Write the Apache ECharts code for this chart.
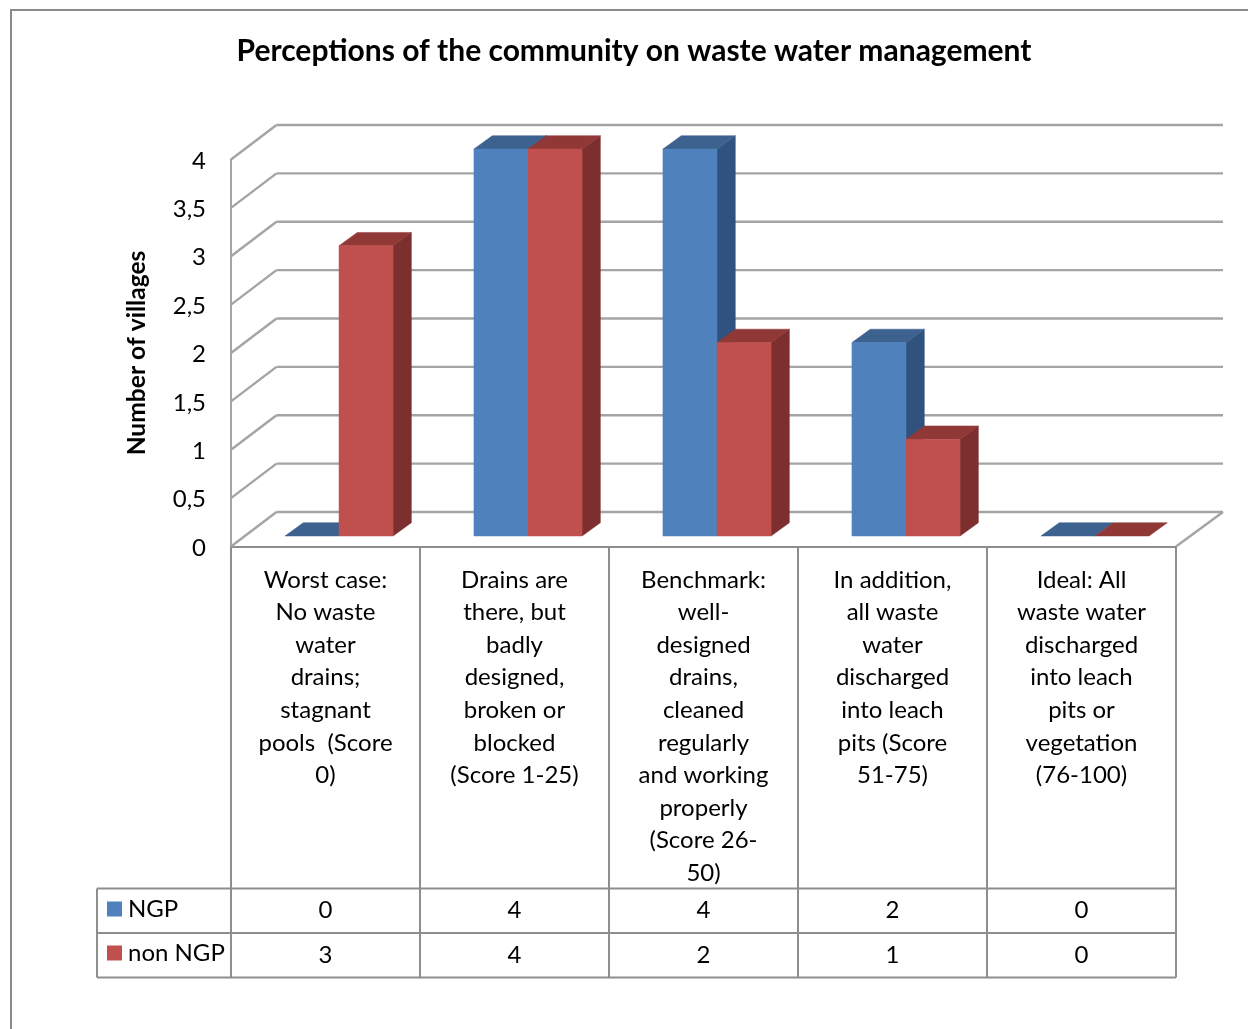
<!DOCTYPE html>
<html>
<head>
<meta charset="utf-8">
<style>html,body{margin:0;padding:0;background:#fff}#c{width:1248px;height:1029px}</style>
<script src="https://cdn.jsdelivr.net/npm/echarts@6/dist/echarts.min.js"></script>
</head>
<body>
<div id="c"></div>
<script>
const categories = [
  "Worst case:\nNo waste\nwater\ndrains;\nstagnant\npools  (Score\n0)",
  "Drains are\nthere, but\nbadly\ndesigned,\nbroken or\nblocked\n(Score 1-25)",
  "Benchmark:\nwell-\ndesigned\ndrains,\ncleaned\nregularly\nand working\nproperly\n(Score 26-\n50)",
  "In addition,\nall waste\nwater\ndischarged\ninto leach\npits (Score\n51-75)",
  "Ideal: All\nwaste water\ndischarged\ninto leach\npits or\nvegetation\n(76-100)"
];
const ngp = [0, 4, 4, 2, 0];
const nonNgp = [3, 4, 2, 1, 0];
const yTicks = [0, 0.5, 1, 1.5, 2, 2.5, 3, 3.5, 4];
const titleText = "Perceptions of the community on waste water management";
const yName = "Number of villages";
const seriesNames = ["NGP", "non NGP"];

const FONT = "Lato";
const GRID = "#a4a4a4", TABLE = "#8e8e8e", INK = "#000";
const WALL = {dx: 45.5, dy: -34.5};   // projection of the back wall
const INSET = {dx: 13.5, dy: -10.5};  // bars stand a little behind the front edge
const DEPTH = {dx: 18.3, dy: -13.3};  // bar depth
const BAR_RATIO = 0.286;
const ROW_Y = [431 - 89, 431 - 44.5, 431]; // table row lines, below the axis line

const pts = (...a) => a;
function line(x1, y1, x2, y2, color, w) {
  return {type: "line", shape: {x1, y1, x2, y2},
    style: {stroke: color, lineWidth: w || 2, fill: null}};
}

function renderWall(params, api) {
  const p = api.coord([0, api.value(0)]);
  const band = api.size([1, 0])[0];
  const xL = p[0] - band / 2, xR = xL + band * 5, y = p[1];
  const kids = [
    line(xL, y, xL + WALL.dx, y + WALL.dy, GRID, 2.4),
    line(xL + WALL.dx, y + WALL.dy, xR + WALL.dx + 1.5, y + WALL.dy, GRID, 2.4)
  ];
  if (params.dataIndex === 0) {
    kids.push(line(xR, y, xR + WALL.dx + 1.5, y + WALL.dy, GRID, 2.4));
  }
  return {type: "group", children: kids};
}

function barRenderer(side, front, dark, topCol) {
  return function (params, api) {
    const c = api.coord([api.value(0), api.value(1)]);
    const base = api.coord([api.value(0), 0]);
    const w = api.size([1, 0])[0] * BAR_RATIO;
    const x0 = c[0] + INSET.dx + (side < 0 ? -w : 0), x1 = x0 + w;
    const yT = c[1] + INSET.dy, yB = base[1] + INSET.dy;
    const dx = DEPTH.dx, dy = DEPTH.dy;
    const poly = (points, fill) => ({type: "polygon", shape: {points},
      style: {fill, stroke: fill, lineWidth: 0.5}});
    const kids = [];
    if (yB - yT > 0) kids.push(poly(pts([x1, yT], [x1 + dx, yT + dy], [x1 + dx, yB + dy], [x1, yB]), dark));
    kids.push(poly(pts([x0, yT], [x0 + dx, yT + dy], [x1 + dx, yT + dy], [x1, yT]), topCol));
    if (yB - yT > 0) kids.push(poly(pts([x0, yT], [x1, yT], [x1, yB], [x0, yB]), front));
    return {type: "group", children: kids};
  };
}

function renderTable(params, api) {
  const i = api.value(0);
  const c = api.coord([i, 0]);
  const band = api.size([1, 0])[0];
  const xL = c[0] - band / 2, xR = xL + band;
  const kids = ROW_Y.map(r => line(xL, c[1] + r, xR, c[1] + r, TABLE));
  kids.push({type: "text", style: {text: String(api.value(1)), x: c[0], y: c[1] + ROW_Y[0] + 22,
    fill: INK, font: "24px " + FONT, align: "center", verticalAlign: "middle"}});
  kids.push({type: "text", style: {text: String(api.value(2)), x: c[0], y: c[1] + ROW_Y[1] + 22,
    fill: INK, font: "24px " + FONT, align: "center", verticalAlign: "middle"}});
  if (i === 0) {
    const hx = xL - 134;
    ROW_Y.forEach(r => kids.push(line(hx, c[1] + r, xL, c[1] + r, TABLE)));
    kids.push(line(hx, c[1] + ROW_Y[0], hx, c[1] + ROW_Y[2], TABLE));
  }
  return {type: "group", children: kids};
}

const chart = echarts.init(document.getElementById("c"), null, {renderer: "canvas"});
chart.setOption({
  animation: false,
  backgroundColor: "#fff",
  title: {
    text: titleText, left: 629, top: 31, textAlign: "center",
    textStyle: {fontFamily: FONT, fontWeight: "bold", fontSize: 30, color: INK}
  },
  legend: {
    data: seriesNames, orient: "vertical", left: 107, top: 897, itemWidth: 15, itemHeight: 15,
    itemGap: 20, icon: "rect", selectedMode: false, padding: 0,
    textStyle: {fontFamily: FONT, fontSize: 24, color: INK, padding: [0, 0, 0, 1]}
  },
  grid: {left: 231, width: 945, top: 159.5, height: 387, containLabel: false},
  xAxis: {
    type: "category", data: categories, boundaryGap: true,
    axisLine: {show: true, onZero: false, lineStyle: {color: TABLE, width: 2}},
    axisTick: {show: true, length: 431, lineStyle: {color: TABLE, width: 2}, alignWithLabel: false},
    axisLabel: {interval: 0, margin: 17, lineHeight: 32.6, verticalAlign: "top", align: "center",
      fontFamily: FONT, fontSize: 24, color: INK}
  },
  yAxis: {
    type: "value", min: 0, max: 4, interval: 0.5,
    splitLine: {show: false},
    axisLine: {show: true, lineStyle: {color: GRID, width: 2}},
    axisTick: {show: false},
    axisLabel: {margin: 25,
      formatter: v => "{t|" + String(v).replace(".", ",") + "}",
      rich: {t: {padding: [3, 0, 0, 0], fontFamily: FONT, fontSize: 24, color: INK}}},
    name: yName, nameLocation: "middle", nameRotate: 90, nameGap: 81,
    nameTextStyle: {fontFamily: FONT, fontWeight: "bold", fontSize: 24.6, color: INK}
  },
  series: [
    {type: "custom", name: "wall", silent: true, clip: false, z: 1,
     data: yTicks.map(t => [t]), encode: {y: 0}, renderItem: renderWall},
    {type: "custom", name: "table", silent: true, clip: false, z: 1,
     data: categories.map((_, i) => [i, ngp[i], nonNgp[i]]), encode: {x: 0, y: 1}, renderItem: renderTable},
    {type: "custom", name: seriesNames[0], clip: false, z: 2, itemStyle: {color: "#4F81BD"},
     data: ngp.map((v, i) => [i, v]), encode: {x: 0, y: 1},
     renderItem: barRenderer(-1, "#4F81BD", "#2F527E", "#3D628F")},
    {type: "custom", name: seriesNames[1], clip: false, z: 3, itemStyle: {color: "#C0504D"},
     data: nonNgp.map((v, i) => [i, v]), encode: {x: 0, y: 1},
     renderItem: barRenderer(1, "#C0504D", "#7C2F2E", "#8F3836")}
  ],
  graphic: [{
    type: "polyline", silent: true, z: 0,
    shape: {points: [[11, 1029], [11, 10], [1248, 10]]},
    style: {stroke: "#8a8a8a", lineWidth: 2, fill: null}
  }]
});
</script>
</body>
</html>
